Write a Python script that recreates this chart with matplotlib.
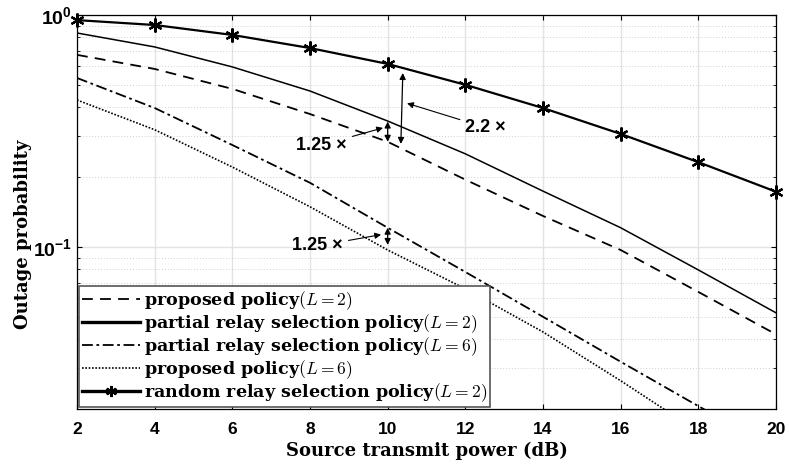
import matplotlib
matplotlib.use("Agg")
import matplotlib.pyplot as plt
from matplotlib.ticker import LogLocator, NullFormatter, FixedLocator

plt.rcParams['mathtext.rm'] = 'Liberation Sans'
plt.rcParams['mathtext.bf'] = 'Liberation Sans:bold'

# Données
snr_db = [2, 4, 6, 8, 10, 12, 14, 16, 18, 20]
proposed_L2 = [0.673, 0.585, 0.48, 0.374, 0.284, 0.195, 0.136, 0.097, 0.064, 0.042]
partial_L2 = [0.836, 0.728, 0.597, 0.47, 0.349, 0.252, 0.174, 0.121, 0.0796, 0.052]
partial_L6 = [0.535, 0.397, 0.275, 0.189, 0.121, 0.078, 0.050, 0.032, 0.0206, 0.0135]
proposed_L6 = [0.43, 0.32, 0.221, 0.149, 0.097, 0.066, 0.043, 0.0265, 0.016, 0.0095]
random_L2 = [0.95, 0.905, 0.82, 0.72, 0.615, 0.50, 0.397, 0.307, 0.232, 0.173]

serif_bold = dict(family='DejaVu Serif', fontweight='bold')

fig = plt.figure(figsize=(7.89, 4.67), dpi=100)
ax = fig.add_axes([0.0976, 0.124, 0.8859, 0.844])

ax.semilogy(snr_db, proposed_L2, color='k', lw=1.3, linestyle=(0, (6, 4)),
            label='proposed policy$(L=2)$')
ax.semilogy(snr_db, partial_L2, color='k', lw=1.1, linestyle='-',
            label='partial relay selection policy$(L=2)$')
ax.semilogy(snr_db, partial_L6, color='k', lw=1.3, linestyle=(0, (6, 2, 1.5, 2)),
            label='partial relay selection policy$(L=6)$')
ax.semilogy(snr_db, proposed_L6, color='k', lw=1.2, linestyle=(0, (1, 1)),
            label='proposed policy$(L=6)$')
ax.semilogy(snr_db, random_L2, color='k', lw=1.6, linestyle='-', marker=(6, 2, 0),
            markersize=10, markeredgewidth=1.6, clip_on=False, zorder=5,
            label='random relay selection policy$(L=2)$')

ax.set_xlim(2, 20)
ax.set_ylim(0.02, 1)
ax.set_xticks(snr_db)
ax.set_xticklabels([str(v) for v in snr_db], fontsize=12.5, fontweight='bold',
                   family='Liberation Sans')
ax.yaxis.set_major_locator(FixedLocator([0.1, 1]))
ax.set_yticklabels([r'$\mathbf{10^{-1}}$', r'$\mathbf{10^{0}}$'], fontsize=14)
for t in ax.get_yticklabels():
    t.set_math_fontfamily('custom')
ax.yaxis.set_minor_locator(LogLocator(base=10, subs=range(2, 10)))
ax.yaxis.set_minor_formatter(NullFormatter())

ax.tick_params(which='both', direction='in', top=True, right=True)
ax.tick_params(axis='x', pad=9)
ax.grid(True, which='major', color='#e3e3e3', lw=1.0, linestyle='-')
ax.grid(True, which='minor', axis='y', color='#d0d0d0', lw=0.7, linestyle=(0, (1, 2)))
for s in ax.spines.values():
    s.set_linewidth(0.9)

ax.set_xlabel('Source transmit power (dB)', fontsize=13, labelpad=4, **serif_bold)
ax.set_ylabel('Outage probability', fontsize=13, **serif_bold)
ax.yaxis.set_label_coords(-0.064, 0.444)

# Annotations
arr = dict(arrowstyle='<|-|>', color='k', lw=0.9, mutation_scale=9, shrinkA=0, shrinkB=0)
ax.annotate('', xy=(10, 0.347), xytext=(10, 0.284), arrowprops=arr)
ax.annotate('', xy=(10, 0.121), xytext=(10, 0.102), arrowprops=arr)
ax.annotate('', xy=(10.39, 0.562), xytext=(10.34, 0.278), arrowprops=arr)

one = dict(arrowstyle='-|>', color='k', lw=0.8, mutation_scale=9, shrinkA=2, shrinkB=0)
sans = dict(family='Liberation Sans', fontweight='bold', fontsize=13)
ax.annotate('1.25 ×', xy=(9.88, 0.326), xytext=(8.95, 0.275),
            ha='right', va='center', arrowprops=one, **sans)
ax.annotate('1.25 ×', xy=(9.83, 0.113), xytext=(8.85, 0.101),
            ha='right', va='center', arrowprops=one, **sans)
ax.annotate('2.2 ×', xy=(10.5, 0.416), xytext=(12.0, 0.327),
            ha='left', va='center', arrowprops=one, **sans)

leg = ax.legend(loc='lower left', frameon=True, fancybox=False,
                framealpha=1, edgecolor='#555555', borderaxespad=0.1,
                handlelength=3.3, handletextpad=0.2, labelspacing=0.02,
                borderpad=0.2, prop=dict(family='DejaVu Serif', weight='bold', size=12.6))
leg.get_frame().set_linewidth(1.2)
leg.set_zorder(10)
for t in leg.get_texts():
    t.set_math_fontfamily('cm')
for h in leg.legend_handles:
    if h.get_linestyle() == '-':
        h.set_linewidth(2.4)
    h.set_markersize(8)

plt.savefig('out.png', dpi=100)
plt.close()
